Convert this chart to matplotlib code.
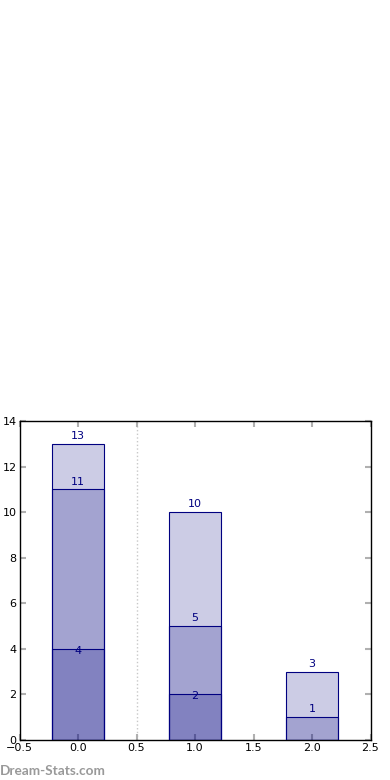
import matplotlib
matplotlib.use('Agg')
import matplotlib.pyplot as plt
import numpy as np

# data
groups = [0, 1, 2]
totals = [13, 10, 3]
middle = [11, 5, 1]
bottom = [4, 2, 0]

fig = plt.figure(figsize=(3.9, 7.8), dpi=100)
ax = fig.add_axes([0.05, 0.0513, 0.9, 0.4090])

width = 0.45
# light, medium, dark: same translucent navy stacked from zero
for series, lift in ((totals, 2), (middle, 2), (bottom, -5)):
    ax.bar(groups, series, width=width, color='navy', alpha=0.2, zorder=2)
    ax.bar(groups, series, width=width, fill=False, edgecolor='navy', linewidth=0.8, zorder=3)
    for x, v in zip(groups, series):
        if v > 0:
            ax.annotate(str(v), (x, v), xytext=(0, lift), textcoords='offset points',
                        ha='center', va='bottom', color='navy', fontsize=8)

ax.axvline(0.5, color='#c8c8c8', linestyle=':', linewidth=1, zorder=1)

ax.set_xlim(-0.5, 2.5)
ax.set_ylim(0, 14)
ax.set_xticks(np.arange(-0.5, 2.51, 0.5))
ax.set_yticks(np.arange(0, 15, 2))
ax.tick_params(direction='in', colors='#b0b0b0', labelcolor='black', labelsize=8,
               length=4, width=1.5, top=True, right=True, pad=2)
for s in ax.spines.values():
    s.set_linewidth(1)

fig.text(0.0, 0.0035, 'Dream-Stats.com', color='#999999', fontsize=9.8, fontweight='bold',
         family=['Lato', 'DejaVu Sans'], ha='left', va='bottom')

fig.savefig('out.png', dpi=100)
